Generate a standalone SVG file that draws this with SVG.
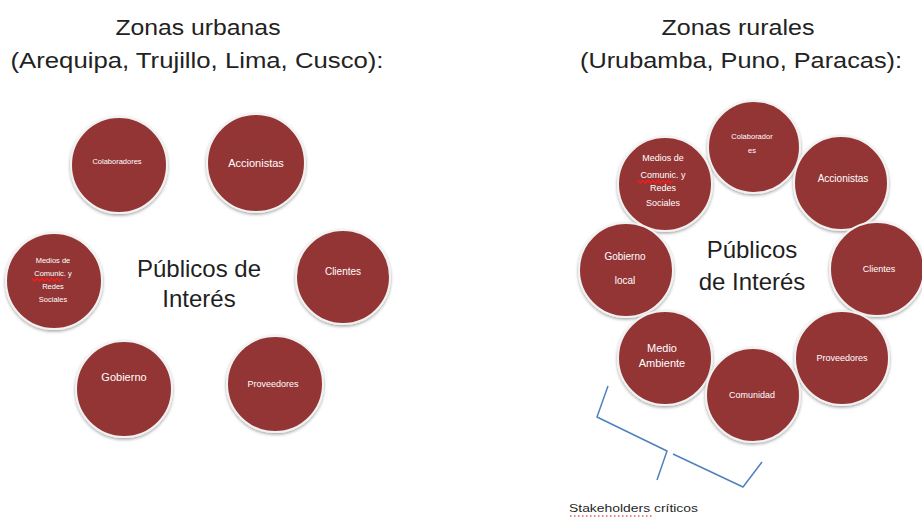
<svg xmlns="http://www.w3.org/2000/svg" width="922" height="517" viewBox="0 0 922 517">
<defs>
<filter id="sh" x="-20%" y="-20%" width="140%" height="140%">
<feDropShadow dx="0" dy="1.5" stdDeviation="1.5" flood-color="#000" flood-opacity="0.35"/>
</filter>
</defs>
<style>
.c{fill:#943634;stroke:#f2f2f2;stroke-width:2;filter:url(#sh)}
.t{font-family:"Liberation Sans",Arial,sans-serif;fill:#fff;text-anchor:middle}
.h{font-family:"Liberation Sans",Arial,sans-serif;fill:#222;text-anchor:middle;font-size:22px}
.m{font-family:"Liberation Sans",Arial,sans-serif;fill:#1f1f1f;text-anchor:middle;font-size:24px}
.sq{fill:none;stroke:#ff1a1a;stroke-width:1.4}
.br{fill:none;stroke:#4f81bd;stroke-width:1.5;stroke-linejoin:round}
</style>
<rect width="922" height="517" fill="#fff"/>

<g id="titles">
<text class="h" x="198" y="35" textLength="165" lengthAdjust="spacingAndGlyphs">Zonas urbanas</text>
<text class="h" x="197" y="68" textLength="373" lengthAdjust="spacingAndGlyphs">(Arequipa, Trujillo, Lima,  Cusco):</text>
<text class="h" x="738" y="35" textLength="153" lengthAdjust="spacingAndGlyphs">Zonas rurales</text>
<text class="h" x="741" y="68" textLength="322" lengthAdjust="spacingAndGlyphs">(Urubamba, Puno, Paracas):</text>
</g>

<g id="urban-center">
<text class="m" x="199" y="277">Públicos de</text>
<text class="m" x="199" y="307">Interés</text>
</g>

<g id="u-colaboradores">
<circle class="c" cx="119" cy="165" r="48"/>
<text class="t" x="117" y="164" font-size="7.5">Colaboradores</text>
</g>
<g id="u-accionistas">
<circle class="c" cx="256" cy="163" r="49"/>
<text class="t" x="256" y="167" font-size="11">Accionistas</text>
</g>
<g id="u-medios">
<circle class="c" cx="54" cy="281" r="48"/>
<text class="t" x="53" y="263" font-size="7.5">Medios de</text>
<text class="t" x="53" y="276" font-size="7.5">Comunic. y</text>
<text class="t" x="53" y="289" font-size="7.5">Redes</text>
<text class="t" x="53" y="302" font-size="7.5">Sociales</text>
<path class="sq" d="M32,278.5 l2.5,2.5 l2.5,-2.5 l2.5,2.5 l2.5,-2.5 l2.5,2.5 l2.5,-2.5 l2.5,2.5 l2.5,-2.5 l2.5,2.5 l2.5,-2.5 l2.5,2.5 l2.5,-2.5"/>
</g>
<g id="u-clientes">
<circle class="c" cx="343" cy="277" r="47"/>
<text class="t" x="343" y="275" font-size="10">Clientes</text>
</g>
<g id="u-gobierno">
<circle class="c" cx="124" cy="389" r="48"/>
<text class="t" x="124" y="381" font-size="11">Gobierno</text>
</g>
<g id="u-proveedores">
<circle class="c" cx="275" cy="384" r="48"/>
<text class="t" x="273" y="387" font-size="9">Proveedores</text>
</g>

<g id="rural-center">
<text class="m" x="752" y="258">Públicos</text>
<text class="m" x="752" y="290">de Interés</text>
</g>

<g id="r-colaboradores">
<circle class="c" cx="754" cy="147" r="46"/>
<text class="t" x="752" y="139" font-size="7.5">Colaborador</text>
<text class="t" x="752" y="153" font-size="7.5">es</text>
</g>
<g id="r-accionistas">
<circle class="c" cx="841" cy="183" r="47"/>
<text class="t" x="843" y="182" font-size="10">Accionistas</text>
</g>
<g id="r-medios">
<circle class="c" cx="665" cy="184" r="47"/>
<text class="t" x="663" y="161" font-size="9">Medios de</text>
<text class="t" x="663" y="178" font-size="9">Comunic. y</text>
<text class="t" x="663" y="191" font-size="9">Redes</text>
<text class="t" x="663" y="206" font-size="9">Sociales</text>
<path class="sq" d="M638,180.5 l2.5,2.5 l2.5,-2.5 l2.5,2.5 l2.5,-2.5 l2.5,2.5 l2.5,-2.5 l2.5,2.5 l2.5,-2.5 l2.5,2.5 l2.5,-2.5 l2.5,2.5 l2.5,-2.5 l2.5,2.5 l2.5,-2.5"/>
</g>
<g id="r-gobierno">
<circle class="c" cx="626" cy="270" r="47"/>
<text class="t" x="625" y="260" font-size="10">Gobierno</text>
<text class="t" x="625" y="284" font-size="10">local</text>
</g>
<g id="r-clientes">
<circle class="c" cx="877" cy="269" r="47"/>
<text class="t" x="879" y="272" font-size="9">Clientes</text>
</g>
<g id="r-medio-ambiente">
<circle class="c" cx="665" cy="358" r="47"/>
<text class="t" x="662" y="352" font-size="11">Medio</text>
<text class="t" x="662" y="367" font-size="11">Ambiente</text>
</g>
<g id="r-proveedores">
<circle class="c" cx="842" cy="358" r="47"/>
<text class="t" x="842" y="361" font-size="9">Proveedores</text>
</g>
<g id="r-comunidad">
<circle class="c" cx="753" cy="395" r="47"/>
<text class="t" x="752" y="398" font-size="9">Comunidad</text>
</g>

<g id="connectors">
<path class="br" d="M608,386 L597,417 L667,451 L657,480 M673,454 L743,487 L762,462"/>
</g>

<g id="stakeholders-label">
<text x="569" y="512" font-family="'Liberation Sans',Arial,sans-serif" font-size="10.5" fill="#1f1f1f" textLength="129" lengthAdjust="spacingAndGlyphs">Stakeholders críticos</text>
<path d="M570,516 H654" stroke="#e00000" stroke-width="1" stroke-dasharray="1.5,2.5" fill="none"/>
</g>
</svg>
